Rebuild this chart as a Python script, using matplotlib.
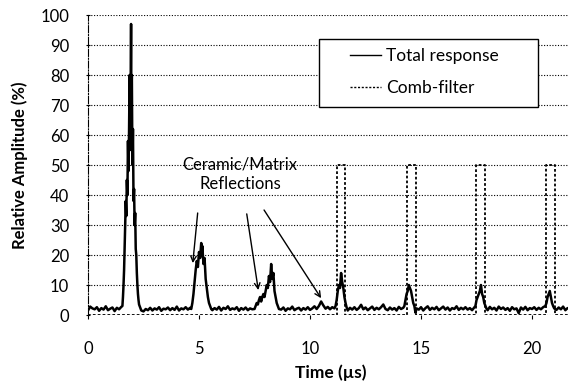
import matplotlib
matplotlib.use("Agg")
import matplotlib.pyplot as plt
from matplotlib.patches import Rectangle

plt.rcParams['font.family'] = ['Lato', 'DejaVu Sans']

# total response (time in us, amplitude in %)
time_us = [
    0.0, 0.1, 0.2, 0.3, 0.4, 0.5, 0.6, 0.7, 0.8, 0.9, 1.0, 1.1, 1.2, 1.3, 1.4, 1.5,
    1.55, 1.575, 1.6, 1.625, 1.65, 1.675, 1.7, 1.725, 1.75, 1.775, 1.8, 1.825, 1.85,
    1.875, 1.9, 1.925, 1.94, 1.95, 1.975, 2.0, 2.025, 2.05, 2.075, 2.1, 2.125, 2.15,
    2.175, 2.2, 2.225, 2.25, 2.275, 2.3, 2.35, 2.4,
    2.5, 2.6, 2.7, 2.8, 2.9, 3.0, 3.1, 3.2, 3.3, 3.4, 3.5, 3.6, 3.7, 3.8, 3.9, 4.0,
    4.1, 4.2, 4.3, 4.4, 4.5, 4.6,
    4.65, 4.7, 4.75, 4.8, 4.85, 4.9, 4.95, 5.0, 5.05, 5.1, 5.12, 5.15, 5.2, 5.25,
    5.3, 5.35, 5.4, 5.45, 5.5, 5.55,
    5.6, 5.7, 5.8, 5.9, 6.0, 6.1, 6.2, 6.3, 6.4, 6.5, 6.6, 6.7, 6.8, 6.9, 7.0, 7.1,
    7.2, 7.3, 7.4,
    7.5, 7.55, 7.6, 7.65, 7.7, 7.75, 7.8, 7.85, 7.9, 7.95, 8.0, 8.05, 8.1, 8.15,
    8.2, 8.25, 8.3, 8.35, 8.4, 8.45, 8.5, 8.55, 8.6,
    8.7, 8.8, 8.9, 9.0, 9.1, 9.2, 9.3, 9.4, 9.5, 9.6, 9.7, 9.8, 9.9, 10.0, 10.1,
    10.2, 10.3, 10.4, 10.5, 10.6, 10.7, 10.8, 10.9, 11.0, 11.1,
    11.15, 11.2, 11.25, 11.3, 11.35, 11.4, 11.45, 11.5, 11.55, 11.6, 11.65,
    11.7, 11.8, 11.9, 12.0, 12.1, 12.2, 12.3, 12.4, 12.5, 12.6, 12.7, 12.8, 12.9,
    13.0, 13.1, 13.2, 13.3, 13.4, 13.5, 13.6, 13.7, 13.8, 13.9, 14.0, 14.1, 14.2,
    14.25, 14.3, 14.35, 14.4, 14.45, 14.5, 14.55, 14.6, 14.65, 14.7,
    14.75, 14.8, 14.9, 15.0, 15.1, 15.2, 15.3, 15.4, 15.5, 15.6, 15.7, 15.8, 15.9,
    16.0, 16.1, 16.2, 16.3, 16.4, 16.5, 16.6, 16.7, 16.8, 16.9, 17.0, 17.1, 17.2,
    17.3, 17.4,
    17.45, 17.5, 17.55, 17.6, 17.65, 17.7, 17.75, 17.8, 17.85, 17.9,
    17.95, 18.0, 18.1, 18.2, 18.3, 18.4, 18.5, 18.6, 18.7, 18.8, 18.9, 19.0, 19.1,
    19.2, 19.3, 19.4, 19.5, 19.6, 19.7, 19.8, 19.9, 20.0, 20.1, 20.2, 20.3, 20.4,
    20.5,
    20.6, 20.65, 20.7, 20.75, 20.8, 20.85, 20.9, 20.95,
    21.0, 21.1, 21.2, 21.3, 21.4, 21.5, 21.6, 21.7,
]
response = [
    1.5, 2.8, 2.2, 1.9, 2.6, 1.4, 2.3, 1.8, 2.9, 1.6, 2.1, 2.5, 1.3, 2.4, 1.9, 2.7,
    3, 6, 10, 15, 22, 30, 38, 33, 45, 40, 58, 48, 62,
    80, 55, 78, 97, 70, 80, 50, 62, 38, 42, 30, 34, 22,
    20, 14, 10, 7, 5, 3.5, 2.5, 1.5,
    1.2, 2.0, 1.6, 2.4, 1.5, 2.2, 1.8, 2.6, 1.4, 2.1, 1.9, 2.5, 1.6, 2.3, 1.7, 2.8,
    1.5, 2.2, 1.9, 2.6, 1.8, 2.4,
    2, 4, 7, 11, 15, 18, 16, 21, 19, 24, 20, 23, 17, 19,
    12, 9, 6, 4, 3, 2,
    1.6, 2.3, 1.8, 2.7, 1.5, 2.4, 2.0, 2.9, 1.7, 2.2, 1.9, 2.6, 1.4, 2.3, 1.8, 2.5,
    1.6, 2.2, 1.9,
    2, 3, 4, 3.5, 5, 6, 4.5, 6, 7, 6, 8, 10, 9, 13,
    11, 17, 12, 14, 8, 6, 4, 3, 2,
    1.8, 2.5, 1.4, 2.2, 1.9, 2.8, 1.6, 2.1, 2.4, 1.5, 2.3, 1.8, 2.6, 1.7, 2.2,
    2.9, 2.0, 3.0, 4.5, 3.2, 2.1, 2.7, 1.9, 2.6, 2.2,
    3, 5, 8, 10, 9, 14, 11, 9, 6, 4, 2.5,
    1.5, 2.4, 1.8, 2.6, 1.7, 2.3, 3.4, 1.9, 2.5, 1.6, 2.2, 2.8, 1.7,
    2.4, 1.9, 2.6, 3.5, 2.0, 1.6, 2.5, 1.8, 2.3, 1.5, 2.7, 2.0, 2.4,
    3, 5, 7, 8, 10, 9, 8, 6, 4, 3,
    0.8, 2.2, 1.8, 2.6, 1.5, 2.3, 2.9, 1.7, 2.4, 1.9, 2.7, 1.6, 2.2,
    2.8, 1.8, 2.5, 1.5, 2.3, 2.0, 2.9, 1.7, 2.4, 1.9, 2.6, 1.8, 2.3,
    1.6, 2.5,
    3, 5, 6, 7, 8, 10, 7, 6, 4, 3,
    2.1, 1.6, 2.7, 1.9, 2.4, 1.5, 2.8, 2.0, 2.5, 1.7, 2.3, 1.4, 2.6,
    1.9, 2.2, 0.6, 2.5, 1.8, 2.7, 1.6, 2.3, 2.0, 2.6, 1.7, 2.4, 1.9,
    2.6,
    3, 4, 6, 7, 8, 6, 4, 3,
    2.2, 1.7, 2.5, 1.9, 2.8, 1.6, 2.3, 2.0,
]

# comb-filter windows (start, end in us) and their height in %
comb_start = [11.23, 14.35, 17.49, 20.64]
comb_end = [11.58, 14.76, 17.87, 21.02]
comb_level = 50

y_ticks = [0, 10, 20, 30, 40, 50, 60, 70, 80, 90, 100]
x_ticks = [0, 5, 10, 15, 20]

fig = plt.figure(figsize=(5.68, 3.85), dpi=100)
ax = fig.add_axes([88 / 568, 1 - 315 / 385, 480 / 568, 300 / 385])

# comb filter as a dotted rectangular pulse train
comb_x = [0.0]
comb_y = [0.0]
for s, e in zip(comb_start, comb_end):
    comb_x += [s, s, e, e]
    comb_y += [0, comb_level, comb_level, 0]
comb_x.append(21.7)
comb_y.append(0)

ax.plot(time_us, response, color='black', lw=1.8, label='Total response', zorder=3)
ax.plot(comb_x, comb_y, color='black', lw=1.3, linestyle=(0, (1.5, 1.2)),
        label='Comb-filter', zorder=2)

ax.set_xlim(0, 21.62)
ax.set_ylim(0, 100)
ax.set_xticks(x_ticks)
ax.set_yticks(y_ticks)
ax.yaxis.grid(True, linestyle=(0, (1, 1.5)), color='black', lw=0.8)
ax.set_axisbelow(True)
for side in ['top', 'right', 'bottom']:
    ax.spines[side].set_visible(False)
ax.spines['left'].set_linestyle('-.')
ax.spines['left'].set_linewidth(0.8)
ax.tick_params(axis='y', labelsize=12, pad=12, length=3, direction='inout')
ax.tick_params(axis='x', labelsize=12, pad=16, length=3)

fig.text(20 / 568, 1 - 165 / 385, 'Relative Amplitude (%)', rotation=90,
         ha='center', va='center', fontsize=12, fontweight='bold')
fig.text(331 / 568, 1 - 373 / 385, 'Time (\u00b5s)', ha='center', va='center',
         fontsize=12.5, fontweight='bold')

ax.text(6.85, 47, 'Ceramic/Matrix\nReflections', ha='center', va='center',
        fontsize=12, linespacing=1.3)
arrow = dict(arrowstyle='->', color='black', lw=1.0, shrinkA=0, shrinkB=0)
ax.annotate('', xy=(4.72, 17.3), xytext=(4.94, 34), arrowprops=arrow)
ax.annotate('', xy=(7.67, 8.3), xytext=(7.15, 33.7), arrowprops=arrow)
ax.annotate('', xy=(10.5, 5.6), xytext=(7.93, 35), arrowprops=arrow)

# legend box drawn separately so the padding matches the original
box = Rectangle((0.481, 0.693), 0.456, 0.227, transform=ax.transAxes,
                facecolor='white', edgecolor='black', lw=1.0, zorder=4.5)
ax.add_patch(box)
leg = ax.legend(loc='upper left', bbox_to_anchor=(0.545, 0.89), frameon=False,
                fontsize=12.5, handlelength=1.8, handletextpad=0.3,
                labelspacing=0.95, borderpad=0, borderaxespad=0)
leg.set_zorder(5)
for h in leg.get_lines():
    h.set_linewidth(1.0)

fig.savefig('out.png', dpi=100)
